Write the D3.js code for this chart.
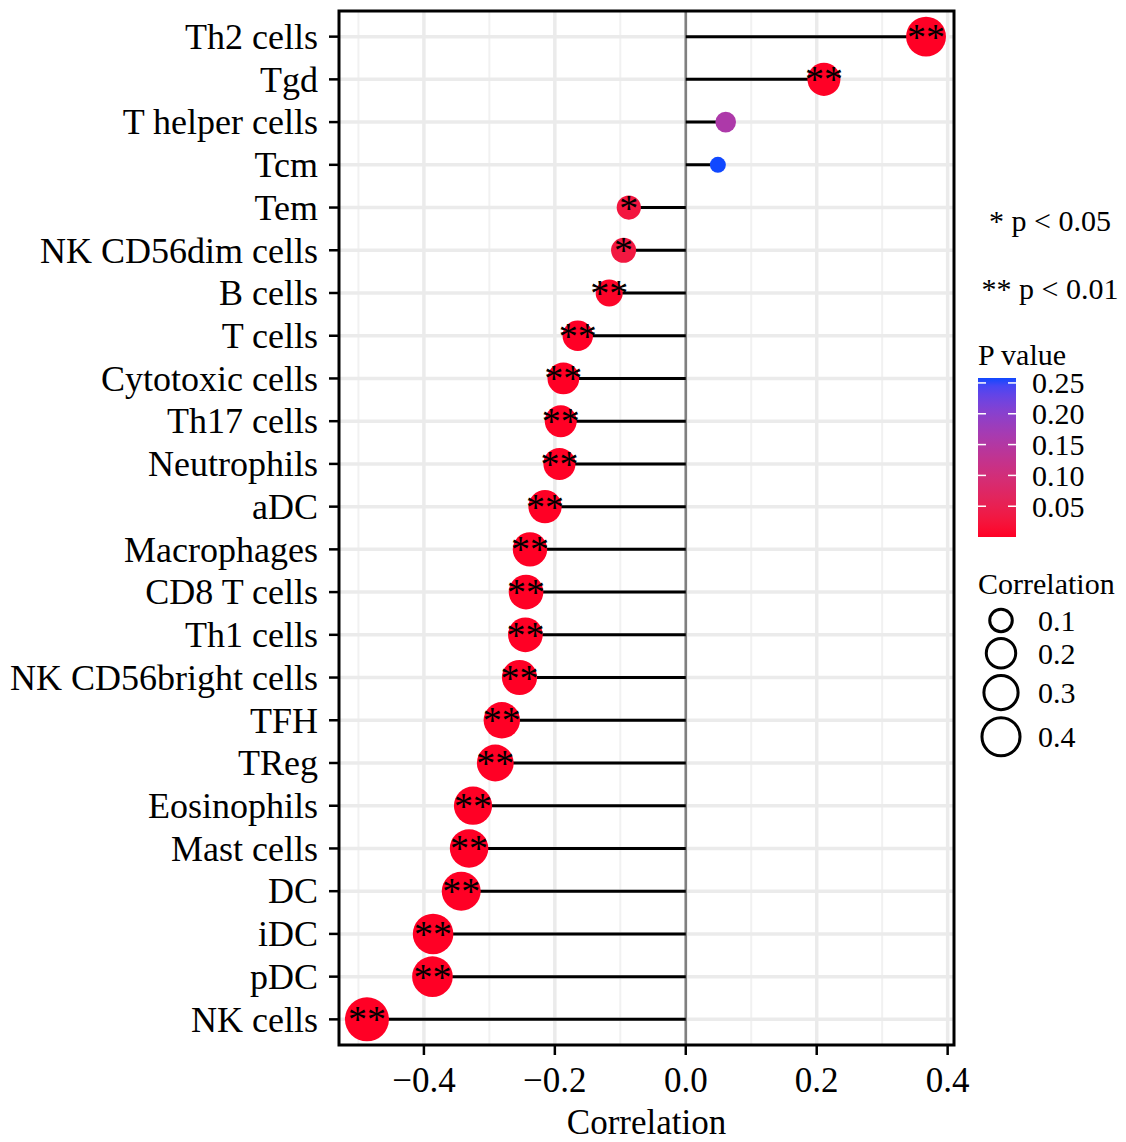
<!DOCTYPE html>
<html>
<head>
<meta charset="utf-8">
<script src="https://cdn.jsdelivr.net/npm/d3@7"></script>
<style>
  body { margin: 0; background: #fff; }
  text { font-family: "Liberation Serif", "Times New Roman", serif; fill: #000; }
</style>
</head>
<body>
<svg id="chart" width="1126" height="1142"></svg>
<script>
// cell types, top to bottom
var cells = ["Th2 cells", "Tgd", "T helper cells", "Tcm", "Tem", "NK CD56dim cells",
  "B cells", "T cells", "Cytotoxic cells", "Th17 cells", "Neutrophils", "aDC",
  "Macrophages", "CD8 T cells", "Th1 cells", "NK CD56bright cells", "TFH", "TReg",
  "Eosinophils", "Mast cells", "DC", "iDC", "pDC", "NK cells"];

var correlation = [0.367, 0.211, 0.061, 0.049, -0.087, -0.095,
  -0.117, -0.165, -0.187, -0.191, -0.193, -0.215,
  -0.238, -0.244, -0.245, -0.254, -0.281, -0.291,
  -0.325, -0.331, -0.343, -0.386, -0.387, -0.487];

var pValue = [0.0001, 0.0008, 0.158, 0.258, 0.028, 0.031,
  0.004, 0.0006, 0.0003, 0.0003, 0.0003, 0.0002,
  0.0001, 0.0001, 0.0001, 0.0001, 0.0001, 0.0001,
  0.0001, 0.0001, 0.0001, 0.0001, 0.0001, 0.0001];

var pTicks = [0.05, 0.10, 0.15, 0.20, 0.25];
var sizeTicks = [0.1, 0.2, 0.3, 0.4];
var sigNotes = ["* p < 0.05", "** p < 0.01"];

var data = cells.map(function(c, i) {
  return { cell: c, r: correlation[i], p: pValue[i] };
});

var stars = function(p) {
  if (p < 0.01) return "**";
  if (p < 0.05) return "*";
  return "";
};

var svg = d3.select("#chart");
// panel box (window.top is reserved, so prefixed names)
var pLeft = 339, pRight = 954, pTop = 11, pBottom = 1045;

// ggplot style 5% expansion
var lo = d3.min(correlation.concat(0)), hi = d3.max(correlation.concat(0));
var pad = (hi - lo) * 0.05;
var x = d3.scaleLinear().domain([lo - pad, hi + pad]).range([pLeft, pRight]);
var y = d3.scalePoint().domain(cells).range([pTop, pBottom]).padding(0.6);

var absR = correlation.map(Math.abs);
var sizeLin = d3.scaleLinear().domain(d3.extent(absR)).range([0, 1]).clamp(true);
var radius = function(v) { return 8 + 14 * Math.sqrt(sizeLin(Math.abs(v))); };

var color = d3.scaleLinear().domain(d3.extent(pValue))
  .range(["#ff0025", "#1048ff"]).interpolate(d3.interpolateLab);

// panel
svg.append("rect").attr("x", pLeft).attr("y", pTop)
  .attr("width", pRight - pLeft).attr("height", pBottom - pTop).attr("fill", "#fff");

var major = x.ticks(5);
var minor = x.ticks(10).filter(function(t) {
  return !major.some(function(m) { return Math.abs(m - t) < 1e-9; });
});

svg.append("g").selectAll("line").data(minor).enter().append("line")
  .attr("x1", function(d) { return x(d); }).attr("x2", function(d) { return x(d); })
  .attr("y1", pTop).attr("y2", pBottom)
  .attr("stroke", "#f1f1f1").attr("stroke-width", 2);

svg.append("g").selectAll("line").data(major).enter().append("line")
  .attr("x1", function(d) { return x(d); }).attr("x2", function(d) { return x(d); })
  .attr("y1", pTop).attr("y2", pBottom)
  .attr("stroke", "#ebebeb").attr("stroke-width", 3.5);

svg.append("g").selectAll("line").data(cells).enter().append("line")
  .attr("x1", pLeft).attr("x2", pRight)
  .attr("y1", function(d) { return y(d); }).attr("y2", function(d) { return y(d); })
  .attr("stroke", "#ebebeb").attr("stroke-width", 3.5);

// zero line
svg.append("line").attr("x1", x(0)).attr("x2", x(0)).attr("y1", pTop).attr("y2", pBottom)
  .attr("stroke", "#808080").attr("stroke-width", 2.5);

// lollipops
svg.append("g").selectAll("line").data(data).enter().append("line")
  .attr("x1", x(0)).attr("x2", function(d) { return x(d.r); })
  .attr("y1", function(d) { return y(d.cell); }).attr("y2", function(d) { return y(d.cell); })
  .attr("stroke", "#000").attr("stroke-width", 3);

svg.append("g").selectAll("circle").data(data).enter().append("circle")
  .attr("cx", function(d) { return x(d.r); })
  .attr("cy", function(d) { return y(d.cell); })
  .attr("r", function(d) { return radius(d.r); })
  .attr("fill", function(d) { return color(d.p); });

svg.append("g").selectAll("text").data(data).enter().append("text")
  .attr("x", function(d) { return x(d.r); })
  .attr("y", function(d) { return y(d.cell) + 13; })
  .attr("text-anchor", "middle").style("font-size", "38px")
  .text(function(d) { return stars(d.p); });

// border
svg.append("rect").attr("x", pLeft).attr("y", pTop)
  .attr("width", pRight - pLeft).attr("height", pBottom - pTop)
  .attr("fill", "none").attr("stroke", "#000").attr("stroke-width", 3);

// axes
var yAxis = svg.append("g");
yAxis.selectAll("line").data(cells).enter().append("line")
  .attr("x1", pLeft - 10).attr("x2", pLeft)
  .attr("y1", function(d) { return y(d); }).attr("y2", function(d) { return y(d); })
  .attr("stroke", "#000").attr("stroke-width", 2.5);
yAxis.selectAll("text").data(cells).enter().append("text")
  .attr("x", pLeft - 21).attr("y", function(d) { return y(d); })
  .attr("dy", "0.34em").attr("text-anchor", "end").style("font-size", "36px")
  .text(function(d) { return d; });

var xAxis = svg.append("g");
xAxis.selectAll("line").data(major).enter().append("line")
  .attr("x1", function(d) { return x(d); }).attr("x2", function(d) { return x(d); })
  .attr("y1", pBottom).attr("y2", pBottom + 10)
  .attr("stroke", "#000").attr("stroke-width", 2.5);
xAxis.selectAll("text").data(major).enter().append("text")
  .attr("x", function(d) { return x(d); }).attr("y", pBottom + 47)
  .attr("text-anchor", "middle").style("font-size", "35px")
  .text(function(d) { return d3.format(".1f")(d).replace("-", "\u2212"); });

svg.append("text").attr("x", (pLeft + pRight) / 2).attr("y", 1134)
  .attr("text-anchor", "middle").style("font-size", "35px").text("Correlation");

// significance notes
svg.selectAll(".note").data(sigNotes).enter().append("text")
  .attr("class", "note")
  .attr("x", 1050).attr("y", function(d, i) { return 231 + i * 68; })
  .attr("text-anchor", "middle").style("font-size", "30px")
  .text(function(d) { return d; });

// P value colour bar
var barX = 978, barW = 38, barTop = 378, barBot = 537;
svg.append("text").attr("x", barX).attr("y", 365).style("font-size", "30px").text("P value");

var pExt = d3.extent(pValue);
var barY = d3.scaleLinear().domain(pExt).range([barBot, barTop]);
var grad = svg.append("defs").append("linearGradient").attr("id", "pgrad")
  .attr("x1", 0).attr("y1", 1).attr("x2", 0).attr("y2", 0);
grad.selectAll("stop").data(d3.range(0, 1.0001, 0.05)).enter().append("stop")
  .attr("offset", function(t) { return t; })
  .attr("stop-color", function(t) { return color(pExt[0] + t * (pExt[1] - pExt[0])); });
svg.append("rect").attr("x", barX).attr("y", barTop).attr("width", barW)
  .attr("height", barBot - barTop).attr("fill", "url(#pgrad)");

var pt = svg.append("g");
pt.selectAll(".tl").data(pTicks).enter().append("line")
  .attr("x1", barX).attr("x2", barX + 8)
  .attr("y1", function(d) { return barY(d); }).attr("y2", function(d) { return barY(d); })
  .attr("stroke", "#fff").attr("stroke-width", 1.5);
pt.selectAll(".tr").data(pTicks).enter().append("line")
  .attr("x1", barX + barW - 8).attr("x2", barX + barW)
  .attr("y1", function(d) { return barY(d); }).attr("y2", function(d) { return barY(d); })
  .attr("stroke", "#fff").attr("stroke-width", 1.5);
pt.selectAll("text").data(pTicks).enter().append("text")
  .attr("x", 1032).attr("y", function(d) { return barY(d); }).attr("dy", "0.35em")
  .style("font-size", "30px").text(function(d) { return d3.format(".2f")(d); });

// size legend
svg.append("text").attr("x", barX).attr("y", 594).style("font-size", "30px").text("Correlation");
var keyY = [], yc = 606;
sizeTicks.forEach(function(v) {
  var h = radius(v) * 2 * 1.13;
  keyY.push(yc + h / 2);
  yc += h;
});
var sl = svg.append("g");
sl.selectAll("circle").data(sizeTicks).enter().append("circle")
  .attr("cx", 1001).attr("cy", function(d, i) { return keyY[i]; })
  .attr("r", function(d) { return radius(d) - 1.5; })
  .attr("fill", "none").attr("stroke", "#000").attr("stroke-width", 3);
sl.selectAll("text").data(sizeTicks).enter().append("text")
  .attr("x", 1038).attr("y", function(d, i) { return keyY[i]; }).attr("dy", "0.35em")
  .style("font-size", "30px").text(function(d) { return d; });
</script>
</body>
</html>
